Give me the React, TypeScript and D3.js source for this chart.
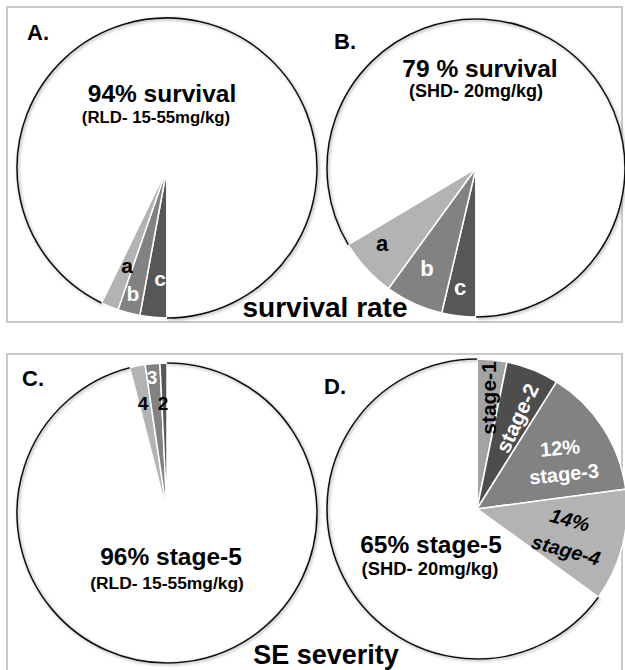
import React from "react";
import * as d3 from "d3";

// ---- data (percentages) ----
const catsA = ["c", "b", "a", "survival"];
const valsA = [2.9, 2.4, 1.9, 92.8];
const catsB = ["c", "b", "a", "survival"];
const valsB = [3.7, 6.3, 6.4, 83.6];
const catsC = ["stage-5", "4", "3", "2"];
const valsC = [96.0, 1.67, 1.58, 0.75];
const catsD = ["stage-1", "stage-2", "stage-3", "stage-4", "stage-5"];
const valsD = [3.2, 5.7, 14.0, 12.1, 65.0];
const pctLabelsD = ["12%", "14%"];

const titleA = ["94% survival", "(RLD- 15-55mg/kg)"];
const titleB = ["79 % survival", "(SHD- 20mg/kg)"];
const titleC = ["96% stage-5", "(RLD- 15-55mg/kg)"];
const titleD = ["65% stage-5", "(SHD- 20mg/kg)"];
const groupTitles = ["survival rate", "SE severity"];
const panelLetters = ["A.", "B.", "C.", "D."];

const FONT = "'Liberation Sans', Arial, Helvetica, sans-serif";

const LIGHT = "#b3b3b3";
const MID = "#828282";
const DARK = "#575757";
const DARKER = "#4d4d4d";

const colorA: Record<string, string> = { a: LIGHT, b: MID, c: DARK, survival: "#ffffff" };
const colorC: Record<string, string> = { "4": LIGHT, "3": MID, "2": DARK, "stage-5": "#ffffff" };
const colorD: Record<string, string> = {
  "stage-1": "#a3a3a3",
  "stage-2": DARKER,
  "stage-3": MID,
  "stage-4": LIGHT,
  "stage-5": "#ffffff",
};

type PieProps = {
  cx: number;
  cy: number;
  r: number;
  cats: string[];
  vals: number[];
  start: number;
  colors: Record<string, string>;
  whiteKey: string;
};

function Pie({ cx, cy, r, cats, vals, start, colors, whiteKey }: PieProps) {
  const data = cats.map((c, i) => ({ cat: c, value: vals[i] }));
  const pie = d3
    .pie<{ cat: string; value: number }>()
    .sort(null)
    .value((d) => d.value)
    .startAngle(start)
    .endAngle(start + 2 * Math.PI);
  const arcs = pie(data);
  const arc = d3.arc<any>().innerRadius(0).outerRadius(r);
  const rim = d3.arc<any>().innerRadius(r).outerRadius(r);
  const white = arcs.find((a) => a.data.cat === whiteKey)!;
  return (
    <g transform={`translate(${cx},${cy})`}>
      {arcs.map((a, i) => (
        <path
          key={i}
          d={arc(a) as string}
          fill={colors[a.data.cat]}
          stroke="#ffffff"
          strokeWidth={1.5}
          strokeLinejoin="round"
        />
      ))}
      <path
        d={rim(white) as string}
        fill="none"
        stroke="#111"
        strokeWidth={1.6}
        filter="url(#shadow)"
      />
    </g>
  );
}

function Label({
  x,
  y,
  text,
  size,
  fill = "#000",
  rotate = 0,
  italic = false,
}: {
  x: number;
  y: number;
  text: string;
  size: number;
  fill?: string;
  rotate?: number;
  italic?: boolean;
}) {
  return (
    <text
      transform={`translate(${x},${y}) rotate(${rotate})`}
      textAnchor="middle"
      dominantBaseline="central"
      fontFamily={FONT}
      fontWeight="bold"
      fontSize={size}
      fontStyle={italic ? "italic" : "normal"}
      fill={fill}
    >
      {text}
    </text>
  );
}

function T({ x, y, text, size, anchor = "middle" }: { x: number; y: number; text: string; size: number; anchor?: string }) {
  return (
    <text x={x} y={y} textAnchor={anchor as any} fontFamily={FONT} fontWeight="bold" fontSize={size} fill="#000">
      {text}
    </text>
  );
}

export default function App() {
  return (
    <svg
      width={625}
      height={670}
      style={{ position: "absolute", left: 0, top: 0, background: "#fff" }}
    >
      <defs>
        <filter id="shadow" x="-10%" y="-10%" width="120%" height="120%">
          <feDropShadow dx={1.2} dy={1.2} stdDeviation={1.4} floodColor="#777" floodOpacity={0.7} />
        </filter>
      </defs>
      <rect x={0} y={0} width={625} height={670} fill="#fff" />
      {/* panel frames */}
      <rect x={7} y={7} width={615} height={315} fill="none" stroke="#c9c9c9" strokeWidth={2} />
      <rect x={7} y={354} width={615} height={330} fill="none" stroke="#c9c9c9" strokeWidth={2} />

      {/* pies */}
      <Pie cx={167} cy={168} r={150} cats={catsA} vals={valsA} start={Math.PI} colors={colorA} whiteKey="survival" />
      <Pie cx={476} cy={168} r={149} cats={catsB} vals={valsB} start={Math.PI} colors={colorA} whiteKey="survival" />
      <Pie cx={167} cy={513} r={150} cats={catsC} vals={valsC} start={0} colors={colorC} whiteKey="stage-5" />
      <Pie cx={477} cy={509} r={150} cats={catsD} vals={valsD} start={0} colors={colorD} whiteKey="stage-5" />

      {/* panel letters */}
      <T x={27} y={40} text={panelLetters[0]} size={22} anchor="start" />
      <T x={334} y={49} text={panelLetters[1]} size={22} anchor="start" />
      <T x={22} y={386} text={panelLetters[2]} size={22} anchor="start" />
      <T x={324} y={394} text={panelLetters[3]} size={22} anchor="start" />

      {/* panel titles */}
      <T x={162} y={102} text={titleA[0]} size={24.5} />
      <T x={156} y={123} text={titleA[1]} size={16.8} />
      <T x={480} y={77} text={titleB[0]} size={24.5} />
      <T x={476} y={97} text={titleB[1]} size={18} />
      <T x={171} y={565} text={titleC[0]} size={24.5} />
      <T x={167} y={589} text={titleC[1]} size={17.4} />
      <T x={431} y={553} text={titleD[0]} size={24.5} />
      <T x={430} y={575} text={titleD[1]} size={18.4} />

      {/* slice labels A */}
      <Label x={127} y={265} text={catsA[2]} size={21} />
      <Label x={133} y={293} text={catsA[1]} size={21} fill="#fff" />
      <Label x={160} y={278} text={catsA[0]} size={21} fill="#fff" />
      {/* slice labels B */}
      <Label x={382} y={243} text={catsB[2]} size={22} />
      <Label x={427} y={268} text={catsB[1]} size={22} fill="#fff" />
      <Label x={460} y={287} text={catsB[0]} size={22} fill="#fff" />
      {/* slice labels C */}
      <Label x={152} y={377} text={catsC[2]} size={19} fill="#fff" />
      <Label x={143} y={403} text={catsC[1]} size={19} />
      <Label x={163} y={403} text={catsC[3]} size={19} />
      {/* slice labels D */}
      <Label x={488} y={398} text={catsD[0]} size={21} rotate={-90} />
      <Label x={517} y={418} text={catsD[1]} size={21} rotate={-65} fill="#fff" />
      <Label x={560} y={448} text={pctLabelsD[0]} size={20} rotate={-5} fill="#fff" />
      <Label x={564} y={474} text={catsD[2]} size={20} rotate={-6} fill="#fff" />
      <Label x={570} y={520} text={pctLabelsD[1]} size={20} rotate={15} italic />
      <Label x={566} y={550} text={catsD[3]} size={20} rotate={15} italic />

      {/* group titles */}
      <T x={325} y={317} text={groupTitles[0]} size={28} />
      <T x={326} y={664} text={groupTitles[1]} size={27} />
    </svg>
  );
}
